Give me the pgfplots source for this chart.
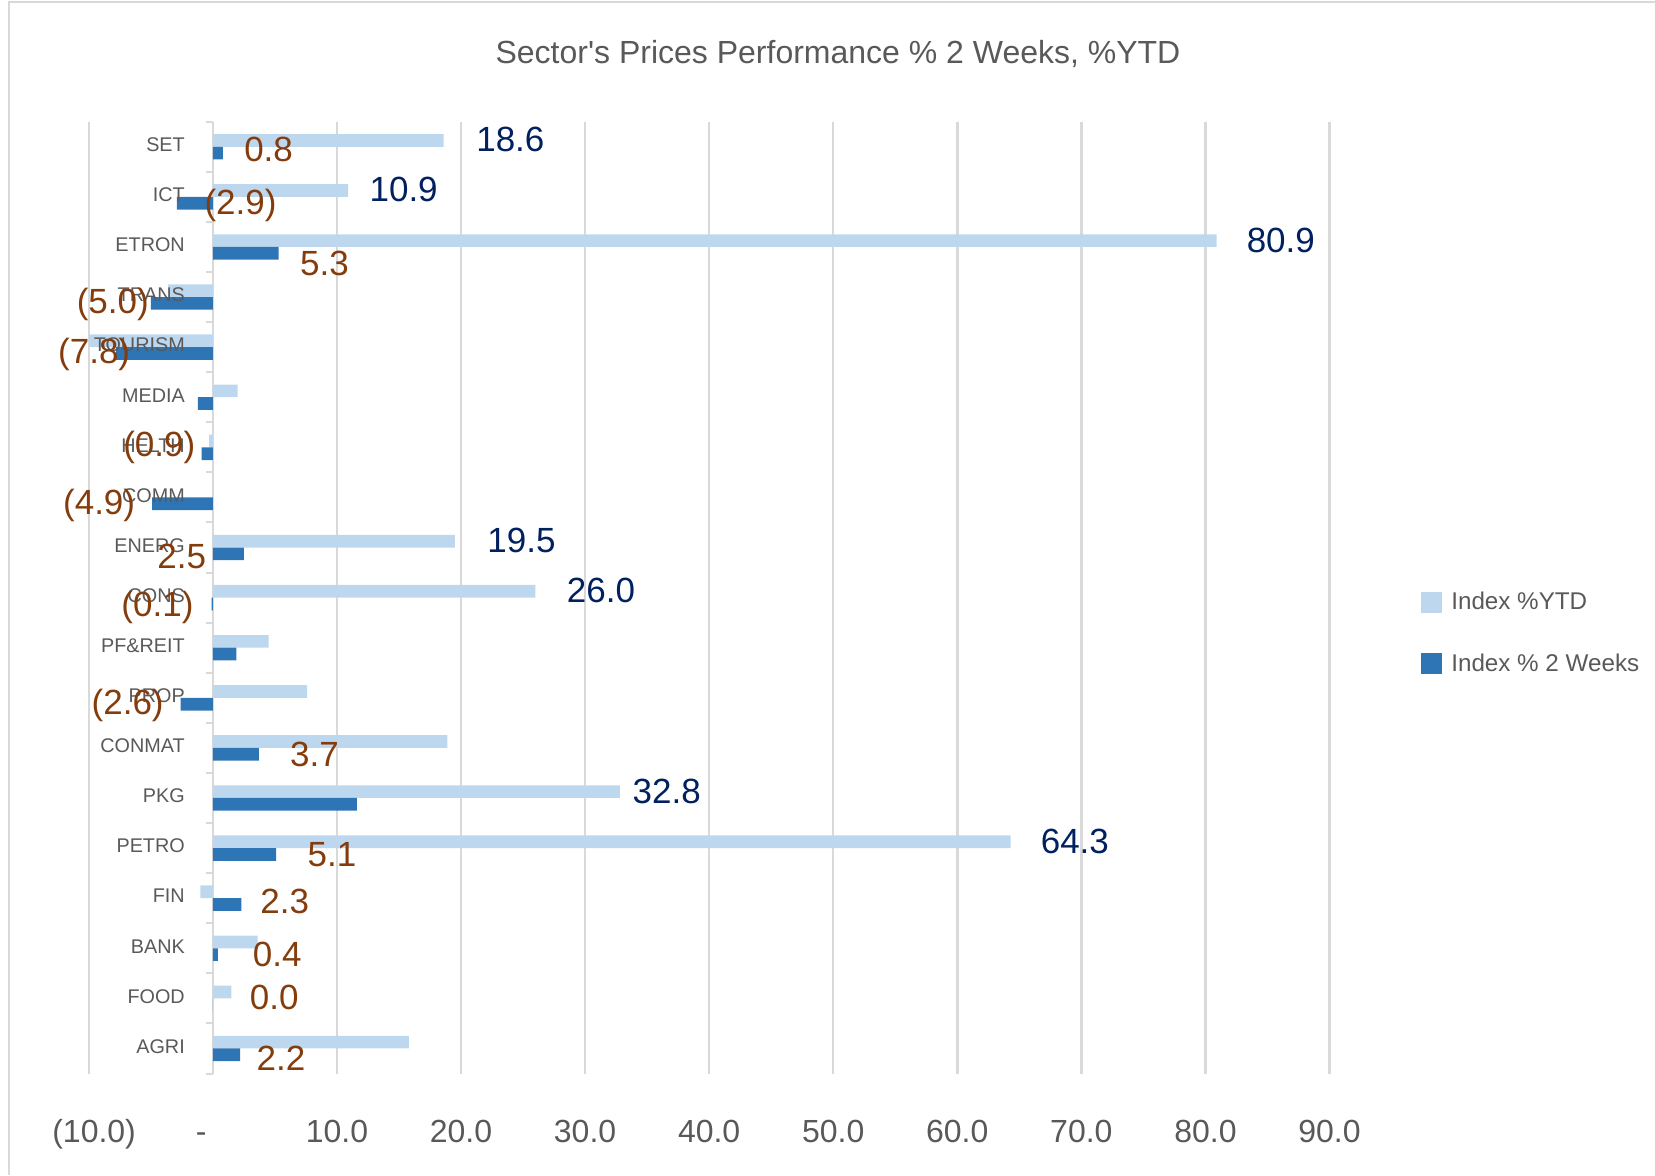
\documentclass[border=0pt]{standalone}
\usepackage{pgfplots}
\pgfplotsset{compat=1.18}
\usepackage{fontspec}
\setmainfont{Liberation Sans}
\definecolor{ytd}{HTML}{BDD7EE}
\definecolor{twow}{HTML}{2E75B6}
\definecolor{navy}{HTML}{002060}
\definecolor{brn}{HTML}{843C0C}
\definecolor{txt}{HTML}{595959}
\definecolor{grd}{HTML}{D9D9D9}
\newcommand\lbl{\fontsize{17.5}{20}\selectfont}
\newcommand\sq{\XeTeXglyph\the\XeTeXglyphindex "quotesingle"\relax}
\begin{document}
\begin{tikzpicture}
\useasboundingbox (0,0) rectangle (827.5pt,-587.5pt);
\draw[grd, line width=1pt] (4.5pt,-587.5pt) -- (4.5pt,-1pt) -- (827.5pt,-1pt);
\node[anchor=base, font=\fontsize{16}{19}\selectfont, text=txt, inner sep=0pt] at (419pt,-31.8pt) {Sector\sq s Prices Performance \% 2 Weeks, \%YTD};
\begin{axis}[
  at={(44.4pt,-536.75pt)}, anchor=south west,
  scale only axis, width=620.35pt, height=475.9pt,
  xmin=-10, xmax=90, ymin=-0.5, ymax=18.5,
  axis line style={draw=none},
  major tick length=0pt,
  xtick={-10,0,10,20,30,40,50,60,70,80,90},
  xticklabels={\hspace{5.3pt}(10.0),-\hspace{11.6pt}\null,10.0,20.0,30.0,40.0,50.0,60.0,70.0,80.0,90.0},
  xticklabel style={anchor=base, yshift=-34.5pt, inner sep=0pt, font=\fontsize{16}{19}\selectfont, text=txt},
  ytick=\empty,
  xmajorgrids, major grid style={grd, line width=1.25pt},
  xbar, bar width=6.35pt,
  clip=false,
  legend style={at={(1.0737,0.5105)}, anchor=north west, draw=none, fill=none, inner sep=0pt,
    font=\fontsize{12.1}{14}\selectfont, text=txt, row sep=16.5pt,
    /tikz/every odd column/.append style={column sep=2.5pt}},
  legend cell align=left,
]
\addplot[fill=ytd, draw=none, bar shift=3.175pt,
  legend image code/.code={\fill[ytd] (0pt,-5.25pt) rectangle (10.5pt,5.25pt);}]
  coordinates {(15.8,0) (1.5,1) (3.6,2) (-1.0,3) (64.3,4) (32.8,5) (18.9,6) (7.6,7) (4.5,8) (26.0,9)
  (19.5,10) (0.0,11) (-0.3,12) (2.0,13) (-10.0,14) (-3.6,15) (80.9,16) (10.9,17) (18.6,18)};
\addlegendentry{Index \%YTD}
\addplot[fill=twow, draw=none, bar shift=-3.175pt,
  legend image code/.code={\fill[twow] (0pt,-5.25pt) rectangle (10.5pt,5.25pt);}]
  coordinates {(2.2,0) (0.0,1) (0.4,2) (2.3,3) (5.1,4) (11.6,5) (3.7,6) (-2.6,7) (1.9,8) (-0.1,9)
  (2.5,10) (-4.9,11) (-0.9,12) (-1.2,13) (-7.8,14) (-5.0,15) (5.3,16) (-2.9,17) (0.8,18)};
\addlegendentry{Index \% 2 Weeks}
\pgfplotsinvokeforeach{-0.5,0.5,...,18.5}{
  \draw[grd, line width=1pt] (axis cs:0,#1) -- ++(-3.5pt,0pt);
}
% category labels
\foreach \k/\n in {0/AGRI,1/FOOD,2/BANK,3/FIN,4/PETRO,5/PKG,6/CONMAT,7/PROP,8/PF\&REIT,9/CONS,10/ENERG,11/COMM,12/HELTH,13/MEDIA,14/TOURISM,15/TRANS,16/ETRON,17/ICT,18/SET}{
  \edef\temp{\noexpand\node[anchor=east, inner sep=0pt, xshift=-13.85pt, yshift=1pt, text=txt, font=\noexpand\fontsize{9.9}{12}\noexpand\selectfont] at (axis cs:0,\k) {\unexpanded\expandafter{\n}};}
  \temp
}
% YTD labels
\node[anchor=base west, inner sep=0pt, text=navy, font=\lbl] at (axis cs:21.2,17.9) {18.6};
\node[anchor=base west, inner sep=0pt, text=navy, font=\lbl] at (axis cs:12.6,16.9) {10.9};
\node[anchor=base west, inner sep=0pt, text=navy, font=\lbl] at (axis cs:83.3,15.89) {80.9};
\node[anchor=base west, inner sep=0pt, text=navy, font=\lbl] at (axis cs:22.1,9.9) {19.5};
\node[anchor=base west, inner sep=0pt, text=navy, font=\lbl] at (axis cs:28.5,8.9) {26.0};
\node[anchor=base west, inner sep=0pt, text=navy, font=\lbl] at (axis cs:33.8,4.9) {32.8};
\node[anchor=base west, inner sep=0pt, text=navy, font=\lbl] at (axis cs:66.7,3.9) {64.3};
% 2 weeks labels
\node[anchor=base west, inner sep=0pt, text=brn, font=\lbl] at (axis cs:2.5,17.7) {0.8};
\node[anchor=base west, inner sep=0pt, text=brn, font=\lbl] at (axis cs:-0.7,16.64) {(2.9)};
\node[anchor=base west, inner sep=0pt, text=brn, font=\lbl] at (axis cs:7.0,15.44) {5.3};
\node[anchor=base west, inner sep=0pt, text=brn, font=\lbl] at (axis cs:-11.0,14.67) {(5.0)};
\node[anchor=base west, inner sep=0pt, text=brn, font=\lbl] at (axis cs:-12.5,13.68) {(7.8)};
\node[anchor=base west, inner sep=0pt, text=brn, font=\lbl] at (axis cs:-7.25,11.81) {(0.9)};
\node[anchor=base west, inner sep=0pt, text=brn, font=\lbl] at (axis cs:-12.1,10.65) {(4.9)};
\node[anchor=base west, inner sep=0pt, text=brn, font=\lbl] at (axis cs:-4.5,9.59) {2.5};
\node[anchor=base west, inner sep=0pt, text=brn, font=\lbl] at (axis cs:-7.4,8.62) {(0.1)};
\node[anchor=base west, inner sep=0pt, text=brn, font=\lbl] at (axis cs:-9.8,6.66) {(2.6)};
\node[anchor=base west, inner sep=0pt, text=brn, font=\lbl] at (axis cs:6.2,5.63) {3.7};
\node[anchor=base west, inner sep=0pt, text=brn, font=\lbl] at (axis cs:7.6,3.63) {5.1};
\node[anchor=base west, inner sep=0pt, text=brn, font=\lbl] at (axis cs:3.8,2.70) {2.3};
\node[anchor=base west, inner sep=0pt, text=brn, font=\lbl] at (axis cs:3.2,1.63) {0.4};
\node[anchor=base west, inner sep=0pt, text=brn, font=\lbl] at (axis cs:2.95,0.77) {0.0};
\node[anchor=base west, inner sep=0pt, text=brn, font=\lbl] at (axis cs:3.5,-0.44) {2.2};
\end{axis}
\end{tikzpicture}
\end{document}
